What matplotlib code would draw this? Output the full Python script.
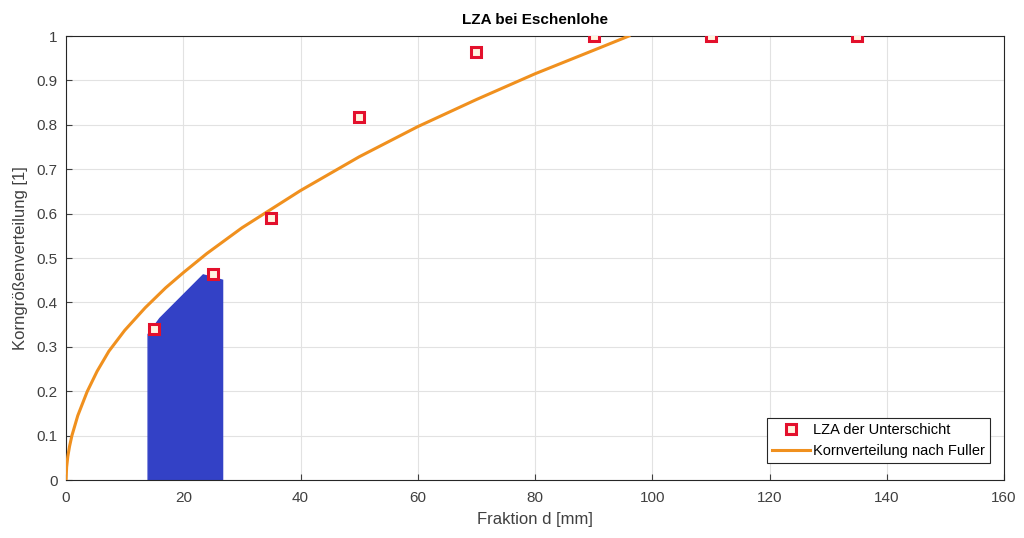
import matplotlib.pyplot as plt

plt.rcParams['font.family'] = ['Liberation Sans', 'DejaVu Sans']

# Messpunkte (LZA der Unterschicht)
d_lza = [15, 25, 35, 50, 70, 90, 110, 135]
p_lza = [0.34, 0.465, 0.59, 0.817, 0.963, 1.0, 1.0, 1.0]

# Fuller-Kurve
d_fuller = [0, 0.1, 0.3, 0.6, 1, 2, 3.6, 5.3, 7.3, 10, 13.5, 17, 20, 24,
            30, 35, 40, 50, 60, 70, 80, 90, 96]
p_fuller = [0, 0.029, 0.053, 0.076, 0.1, 0.145, 0.199, 0.245, 0.29, 0.337,
            0.388, 0.433, 0.467, 0.51, 0.568, 0.61, 0.652, 0.728, 0.796,
            0.857, 0.915, 0.968, 1.0]

# blaue Flaeche
d_area = [14, 14, 16, 23.4, 26.7, 26.7]
p_area = [0, 0.328, 0.364, 0.462, 0.45, 0]

x_ticks = [0, 20, 40, 60, 80, 100, 120, 140, 160]
y_ticks = [0, 0.1, 0.2, 0.3, 0.4, 0.5, 0.6, 0.7, 0.8, 0.9, 1]
y_labels = ['0', '0.1', '0.2', '0.3', '0.4', '0.5', '0.6', '0.7', '0.8', '0.9', '1']

fig = plt.figure(figsize=(10.24, 5.38), dpi=100)
ax = fig.add_axes([0.0645, 0.1078, 0.916, 0.8252])

ax.fill(d_area, p_area, color='#3341c6', zorder=2)
ax.plot(d_fuller, p_fuller, color='#f0901e', lw=2.2, zorder=3,
        solid_joinstyle='round', label='Kornverteilung nach Fuller')
ax.plot(d_lza, p_lza, 's', ms=6.5, mfc='#fff4e0', mec='#e3102c', mew=2.2,
        ls='none', zorder=4, label='LZA der Unterschicht')

ax.set_xlim(0, 160)
ax.set_ylim(0, 1)
ax.set_xticks(x_ticks)
ax.set_yticks(y_ticks)
ax.set_yticklabels(y_labels)
ax.grid(True, color='#e2e2e2', lw=0.8)
ax.set_axisbelow(True)
ax.tick_params(direction='in', length=4, labelsize=11, colors='#404040',
               top=False, right=False)
ax.tick_params(axis='x', pad=8)
ax.tick_params(axis='y', pad=6)
for s in ax.spines.values():
    s.set_color('#262626')
    s.set_linewidth(0.8)

ax.set_title('LZA bei Eschenlohe', fontsize=11, fontweight='bold', pad=9)
ax.set_xlabel('Fraktion d [mm]', fontsize=12, color='#404040', labelpad=5)
ax.set_ylabel('Korngrößenverteilung [1]', fontsize=12, color='#404040', labelpad=6)

h, l = ax.get_legend_handles_labels()
leg = ax.legend(h[::-1], l[::-1], loc='lower right', fontsize=10.5, fancybox=False,
                edgecolor='#262626', framealpha=1, borderpad=0.35,
                handlelength=2.6, handletextpad=0.2, labelspacing=0.45,
                bbox_to_anchor=(0.993, 0.022))
leg.get_frame().set_linewidth(0.8)

fig.savefig('out.png', dpi=100)
